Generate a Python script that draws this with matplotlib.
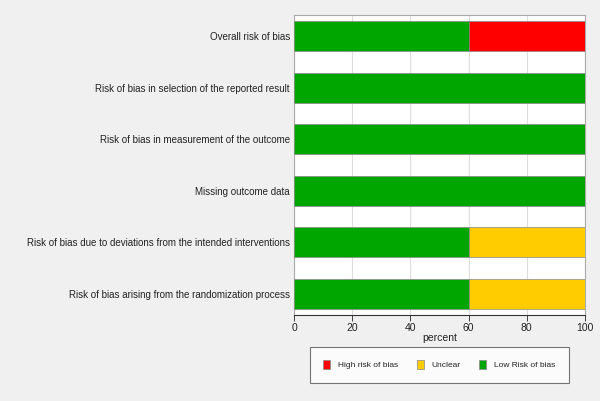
import matplotlib.pyplot as plt
import numpy as np

plt.rcParams['font.family'] = ['Liberation Sans', 'DejaVu Sans']

domains = ["Overall risk of bias",
           "Risk of bias in selection of the reported result",
           "Risk of bias in measurement of the outcome",
           "Missing outcome data",
           "Risk of bias due to deviations from the intended interventions",
           "Risk of bias arising from the randomization process"]
low = [60, 100, 100, 100, 60, 60]
unclear = [0, 0, 0, 0, 40, 40]
high = [40, 0, 0, 0, 0, 0]

green = "#00a600"
yellow = "#ffcc00"
red = "#ff0000"

fig = plt.figure(figsize=(6, 4.01), dpi=100, facecolor="#f0f0f0")
ax = fig.add_axes([294/600, 1-315/401, 291/600, 300/401])
ax.set_facecolor("white")

y = np.arange(len(domains))
h = 0.58
low = np.array(low)
unclear = np.array(unclear)
high = np.array(high)
ax.barh(y, low, height=h, color=green, edgecolor="#888888", linewidth=0.5, zorder=3, label="Low Risk of bias")
ax.barh(y, unclear, left=low, height=h, color=yellow, edgecolor="#888888", linewidth=0.5, zorder=3, label="Unclear")
ax.barh(y, high, left=low+unclear, height=h, color=red, edgecolor="#888888", linewidth=0.5, zorder=3, label="High risk of bias")

ax.set_ylim(len(domains)-1+0.41, -0.41)
ax.set_xlim(0, 100)
ax.set_yticks(y)
ax.set_yticklabels(domains, fontsize=7, color="#222222")
ax.set_xticks([0, 20, 40, 60, 80, 100])
ax.tick_params(axis="x", labelsize=7.5, colors="#222222", length=4, width=0.6, pad=1.5)
ax.tick_params(axis="y", length=0, pad=3)
ax.set_xlabel("percent", fontsize=7.5, color="#222222", labelpad=0)
ax.grid(axis="x", color="#dddddd", linewidth=0.8, zorder=0)
for s in ax.spines.values():
    s.set_color("#aaaaaa")
    s.set_linewidth(0.8)
ax.spines["bottom"].set_color("#333333")

hnd, lab = ax.get_legend_handles_labels()
leg = fig.legend(hnd[::-1], lab[::-1], loc="upper left",
                 bbox_to_anchor=(310/600, 1-383/401, 259/600, 36/401), mode="expand",
                 borderaxespad=0, ncol=3, fontsize=6, frameon=True, fancybox=False,
                 edgecolor="#555555", handlelength=0.8, handleheight=1.2,
                 columnspacing=1.5, handletextpad=1.0, borderpad=1.6)
leg.get_frame().set_linewidth(0.8)
for t in leg.get_texts():
    t.set_color("#222222")

fig.savefig("out.png", dpi=100, facecolor=fig.get_facecolor())
